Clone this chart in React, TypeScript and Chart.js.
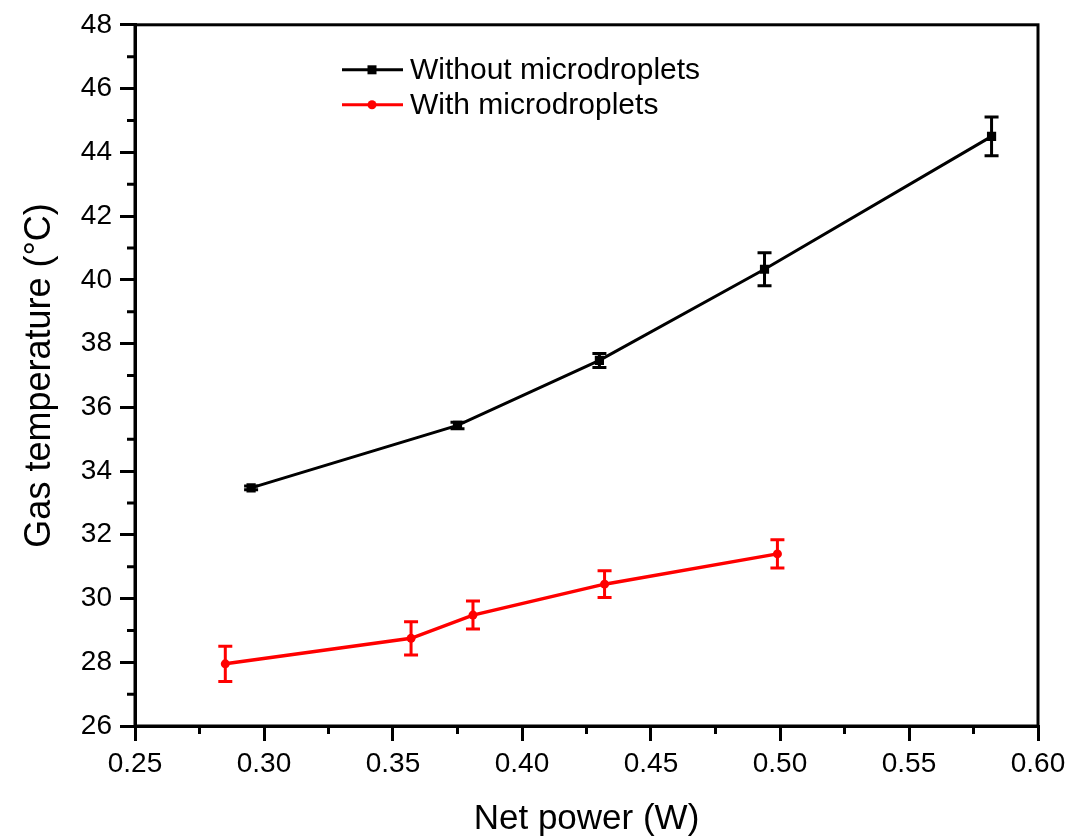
import React, { useEffect, useRef } from "react";
import { Chart, registerables } from "chart.js";

Chart.register(...registerables);

const seriesNames = ["Without microdroplets", "With microdroplets"];
const xWithout = [0.295, 0.375, 0.43, 0.494, 0.582];
const yWithout = [33.47, 35.43, 37.47, 40.33, 44.5];
const errWithout = [0.06, 0.1, 0.22, 0.52, 0.61];
const xWith = [0.285, 0.357, 0.381, 0.432, 0.499];
const yWith = [27.95, 28.75, 29.48, 30.45, 31.4];
const errWith = [0.55, 0.52, 0.44, 0.42, 0.44];
const xMinorTicks = [0.275, 0.325, 0.375, 0.425, 0.475, 0.525, 0.575];
const yMinorTicks = [27, 29, 31, 33, 35, 37, 39, 41, 43, 45, 47];

const FONT = "'Liberation Sans', Arial, sans-serif";
const colors = ["#000000", "#ff0000"];

const errorBarsPlugin = {
  id: "errorBars",
  afterDatasetsDraw(chart: any) {
    const ctx = chart.ctx;
    const ys = chart.scales.y;
    const xs = chart.scales.x;
    const errs = [errWithout, errWith];
    chart.data.datasets.forEach((ds: any, di: number) => {
      ctx.save();
      ctx.strokeStyle = colors[di];
      ctx.lineWidth = 3;
      ds.data.forEach((p: any, i: number) => {
        const e = errs[di][i];
        const x = xs.getPixelForValue(p.x);
        const yt = ys.getPixelForValue(p.y + e);
        const yb = ys.getPixelForValue(p.y - e);
        ctx.beginPath();
        ctx.moveTo(x, yt);
        ctx.lineTo(x, yb);
        ctx.moveTo(x - 7, yt);
        ctx.lineTo(x + 7, yt);
        ctx.moveTo(x - 7, yb);
        ctx.lineTo(x + 7, yb);
        ctx.stroke();
      });
      ctx.restore();
    });
  },
  afterDraw(chart: any) {
    const ctx = chart.ctx;
    const a = chart.chartArea;
    const xs = chart.scales.x;
    const ys = chart.scales.y;
    ctx.save();
    ctx.strokeStyle = "#000";
    ctx.lineWidth = 3;
    ctx.strokeRect(a.left, a.top, a.right - a.left, a.bottom - a.top);
    ctx.beginPath();
    xMinorTicks.forEach((v) => {
      const x = xs.getPixelForValue(v);
      ctx.moveTo(x, a.bottom);
      ctx.lineTo(x, a.bottom + 8);
    });
    yMinorTicks.forEach((v) => {
      const y = ys.getPixelForValue(v);
      ctx.moveTo(a.left, y);
      ctx.lineTo(a.left - 8, y);
    });
    ctx.stroke();
    // legend
    const lx = a.left + 207;
    const ly = a.top + 45;
    chart.data.datasets.forEach((ds: any, di: number) => {
      const y = ly + di * 35;
      ctx.strokeStyle = colors[di];
      ctx.fillStyle = colors[di];
      ctx.lineWidth = 3;
      ctx.beginPath();
      ctx.moveTo(lx, y);
      ctx.lineTo(lx + 61, y);
      ctx.stroke();
      if (di === 0) {
        ctx.fillRect(lx + 30 - 4.5, y - 4.5, 9, 9);
      } else {
        ctx.beginPath();
        ctx.arc(lx + 30, y, 4.5, 0, Math.PI * 2);
        ctx.fill();
      }
      ctx.fillStyle = "#000";
      ctx.font = `30px ${FONT}`;
      ctx.textBaseline = "middle";
      ctx.textAlign = "left";
      ctx.fillText(ds.label, lx + 68, y + 1);
    });
    ctx.restore();
  },
};

export default function App() {
  const ref = useRef<HTMLCanvasElement>(null);
  useEffect(() => {
    if (!ref.current) return;
    const chart = new Chart(ref.current, {
      type: "line",
      data: {
        datasets: [
          {
            label: seriesNames[0],
            data: xWithout.map((x, i) => ({ x, y: yWithout[i] })),
            borderColor: colors[0],
            backgroundColor: colors[0],
            borderWidth: 3,
            pointStyle: "rect",
            pointRadius: 6.5,
            pointBorderWidth: 0,
            tension: 0,
          },
          {
            label: seriesNames[1],
            data: xWith.map((x, i) => ({ x, y: yWith[i] })),
            borderColor: colors[1],
            backgroundColor: colors[1],
            borderWidth: 3.5,
            pointStyle: "circle",
            pointRadius: 4.5,
            pointBorderWidth: 0,
            tension: 0,
          },
        ],
      },
      options: {
        animation: false,
        responsive: false,
        layout: { padding: { left: 0, right: 36, top: 23, bottom: 0 } },
        plugins: { legend: { display: false }, tooltip: { enabled: false } },
        scales: {
          x: {
            type: "linear",
            min: 0.25,
            max: 0.6,
            afterFit: (s: any) => {
              s.height = 113;
            },
            border: { display: true, color: "#000", width: 3 },
            grid: {
              drawOnChartArea: false,
              drawTicks: true,
              tickLength: 15,
              color: "#000",
              lineWidth: 3,
            },
            ticks: {
              stepSize: 0.05,
              autoSkip: false,
              maxRotation: 0,
              padding: 6,
              color: "#000",
              font: { family: FONT, size: 28 },
              callback: (v: any) => Number(v).toFixed(2),
            },
            title: {
              display: true,
              text: "Net power (W)",
              color: "#000",
              font: { family: FONT, size: 35, lineHeight: 1 },
              padding: { top: 0, bottom: 2 },
            },
          },
          y: {
            type: "linear",
            min: 26,
            max: 48,
            afterFit: (s: any) => {
              s.width = 135;
            },
            border: { display: true, color: "#000", width: 3 },
            grid: {
              drawOnChartArea: false,
              drawTicks: true,
              tickLength: 15,
              color: "#000",
              lineWidth: 3,
            },
            ticks: {
              stepSize: 2,
              autoSkip: false,
              padding: 8,
              color: "#000",
              font: { family: FONT, size: 28 },
            },
            title: {
              display: true,
              text: "Gas temperature (°C)",
              color: "#000",
              font: { family: FONT, size: 36, lineHeight: 1 },
              padding: { top: 22, bottom: 0 },
            },
          },
        },
      },
      plugins: [errorBarsPlugin],
    });
    return () => chart.destroy();
  }, []);
  return (
    <div style={{ position: "absolute", left: 0, top: 0, width: 1074, height: 839, background: "#fff" }}>
      <canvas ref={ref} width={1074} height={839} style={{ display: "block" }} />
    </div>
  );
}
